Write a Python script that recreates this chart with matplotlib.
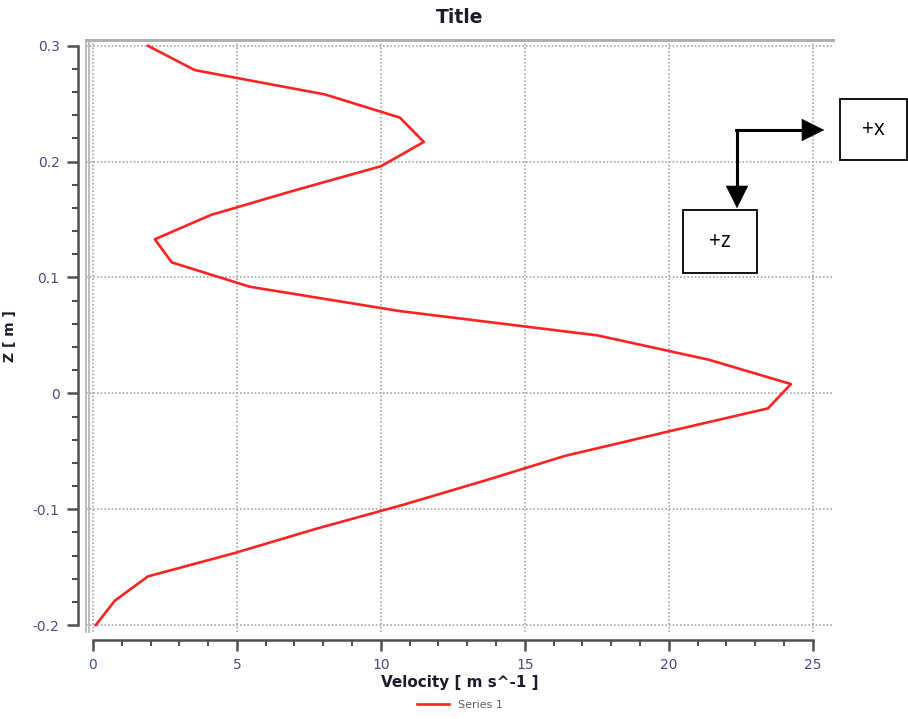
import matplotlib
matplotlib.use("Agg")
import matplotlib.pyplot as plt
from matplotlib import ticker
from matplotlib.lines import Line2D
from matplotlib.patches import Rectangle, FancyArrowPatch

# velocity profile
velocity = [1.91, 3.54, 8.06, 10.66, 11.49, 10.0, 6.98, 4.1, 2.15, 2.74,
            5.45, 10.66, 17.53, 21.39, 24.24, 23.44, 19.97, 16.39, 13.65,
            10.8, 7.74, 4.9, 1.91, 0.76, 0.1]
z = [0.3, 0.279, 0.258, 0.238, 0.217, 0.196, 0.175, 0.154, 0.133, 0.113,
     0.092, 0.071, 0.050, 0.029, 0.008, -0.013, -0.033, -0.054, -0.075,
     -0.096, -0.117, -0.138, -0.158, -0.179, -0.2]
series_name = "Series 1"

W, H = 908, 719
TICK_COLOR = "#4a4a88"
LABEL_COLOR = "#1c1c2c"
GRID_COLOR = "#a8a8a8"

fig = plt.figure(figsize=(W / 100, H / 100), dpi=100)
ax = fig.add_axes([86 / W, 1 - 632 / H, (833 - 86) / W, (632 - 40) / H])

ax.plot(velocity, z, color="#ff2222", linewidth=1.9, label=series_name)

ax.set_xlim(-0.24, 25.7)
ax.set_ylim(-0.206, 0.305)
ax.xaxis.set_major_locator(ticker.FixedLocator([0, 5, 10, 15, 20, 25]))
ax.xaxis.set_minor_locator(ticker.FixedLocator(range(0, 26)))
ax.yaxis.set_major_locator(ticker.FixedLocator([-0.2, -0.1, 0, 0.1, 0.2, 0.3]))
ax.yaxis.set_minor_locator(
    ticker.FixedLocator([v / 100 for v in range(-20, 31, 2)]))
ax.yaxis.set_major_formatter(
    ticker.FuncFormatter(lambda v, _: "0" if abs(v) < 1e-9 else f"{v:g}"))

ax.grid(True, which="major", linestyle=(0, (1, 1.2)), color=GRID_COLOR,
        linewidth=1.2)

ax.spines["right"].set_visible(False)
ax.spines["top"].set_color("#b0b0b0")
ax.spines["top"].set_linewidth(2.2)
for side in ("left", "bottom"):
    ax.spines[side].set_position(("outward", 6))
    ax.spines[side].set_color("#505050")
    ax.spines[side].set_linewidth(1.8)
ax.spines["left"].set_bounds(-0.2, 0.3)
ax.spines["bottom"].set_bounds(0, 25)

# double grey frame line on the left of the plot area
for off in (0.0, 2.5 / (833 - 86)):
    ax.add_line(Line2D([off, off], [0, 1], transform=ax.transAxes,
                       color="#b0b0b0", linewidth=1.2, clip_on=False))

ax.tick_params(which="major", length=8, width=1.8, color="#505050",
               labelcolor=TICK_COLOR, labelsize=10, pad=5)
ax.tick_params(which="minor", length=4, width=1.5, color="#505050")

ax.set_title("Title", fontsize=13.5, fontweight="bold", color=LABEL_COLOR,
             pad=12)
ax.set_xlabel("Velocity [ m s^-1 ]", fontsize=11, fontweight="bold",
              color=LABEL_COLOR, labelpad=2)
ax.set_ylabel("Z [ m ]", fontsize=10, fontweight="bold", color=LABEL_COLOR)
ax.yaxis.set_label_coords(-(86 - 17) / (833 - 86), 0.5)

fig.legend(loc="center", bbox_to_anchor=(460 / W, 1 - 705 / H),
           frameon=False, fontsize=8, handlelength=2.9, labelcolor="#606060")


# coordinate sketch (+x / +z boxes with arrows), in figure pixels
def px(x, y):
    return (x / W, 1 - y / H)


for (x0, y0, x1, y1, text) in [(840, 99, 907, 160, "+x"),
                               (683, 210, 757, 273, "+z")]:
    fig.add_artist(Rectangle(px(x0, y1), (x1 - x0) / W, (y1 - y0) / H,
                             transform=fig.transFigure, facecolor="white",
                             edgecolor="black", linewidth=1.3))
    fig.text((x0 + x1) / 2 / W, 1 - (y0 + y1) / 2 / H, text, fontsize=15,
             ha="center", va="center", family="Open Sans")

fig.add_artist(Line2D([737 / W, 737 / W], [1 - 130 / H, 1 - 196 / H],
                      transform=fig.transFigure, color="black", linewidth=2.2))
fig.add_artist(Line2D([736 / W, 812 / W], [1 - 130 / H, 1 - 130 / H],
                      transform=fig.transFigure, color="black", linewidth=2.2))
for start, end in [(px(737, 190), px(737, 211)), (px(806, 130), px(827, 130))]:
    fig.add_artist(FancyArrowPatch(start, end, transform=fig.transFigure,
                                   arrowstyle="-|>,head_length=1.4,head_width=0.7",
                                   mutation_scale=11, color="black",
                                   linewidth=0.5))

fig.savefig("out.png", dpi=100)
